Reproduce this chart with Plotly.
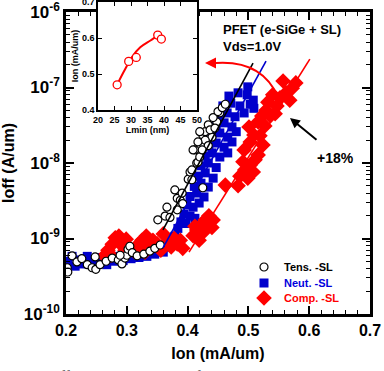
import plotly.graph_objects as go

# ---------------- data ----------------
tens_ion = [0.202, 0.203, 0.210, 0.218, 0.226, 0.235, 0.243, 0.249, 0.256, 0.248,
            0.266, 0.276, 0.286, 0.292, 0.297, 0.300, 0.302, 0.305, 0.309, 0.289,
            0.317, 0.328, 0.338, 0.346, 0.355,
            0.351, 0.363, 0.366, 0.371, 0.379, 0.383, 0.388, 0.391, 0.392, 0.383,
            0.401, 0.404, 0.407, 0.407, 0.412, 0.415, 0.417, 0.420, 0.425, 0.429,
            0.434, 0.440, 0.448, 0.453, 0.429, 0.437, 0.442, 0.450, 0.457, 0.462,
            0.445, 0.434, 0.424, 0.425, 0.420, 0.409, 0.417]
tens_ioff = [4.1e-10, 3.6e-10, 5.9e-10, 4.9e-10, 5.4e-10, 4.5e-10, 4.1e-10, 3.9e-10, 4.5e-10, 5.7e-10,
             5.0e-10, 5.5e-10, 5.2e-10, 4.6e-10, 5.5e-10, 6.0e-10, 7.2e-10, 7.9e-10, 6.5e-10, 6.0e-10,
             5.9e-10, 6.2e-10, 6.8e-10, 7.4e-10, 8.2e-10,
             1.77e-9, 1.98e-9, 2.6e-9, 1.9e-9, 4.4e-9, 3.4e-9, 3.2e-9, 4.0e-9, 2.9e-9, 2.4e-9,
             6.1e-9, 7.6e-9, 8.1e-9, 6.0e-9, 1.49e-8, 1.0e-8, 1.03e-8, 1.2e-8, 2.35e-8, 2.6e-8,
             3.2e-8, 2.2e-8, 3.5e-8, 4.6e-8, 2.0e-8, 2.75e-8, 4.0e-8, 4.8e-8, 5.4e-8, 6.0e-8,
             2.9e-8, 1.7e-8, 1.49e-8, 4.7e-9, 2.6e-8, 1.49e-8, 1.9e-8]

neut_ion = [0.203, 0.210, 0.215, 0.221, 0.228, 0.235, 0.241, 0.248, 0.254, 0.261,
            0.267, 0.274, 0.281, 0.287, 0.294, 0.300, 0.307, 0.313, 0.320, 0.327,
            0.333, 0.340, 0.346, 0.353, 0.360, 0.366, 0.373, 0.379, 0.384,
            0.389, 0.397, 0.394, 0.404, 0.412, 0.399, 0.409, 0.419, 0.404, 0.415,
            0.427, 0.411, 0.422, 0.434, 0.417, 0.429, 0.442, 0.422, 0.434, 0.447,
            0.429, 0.440, 0.453, 0.466, 0.435, 0.447, 0.460, 0.473, 0.440, 0.453,
            0.466, 0.480, 0.447, 0.460, 0.473, 0.452, 0.465, 0.478, 0.493, 0.458,
            0.471, 0.486, 0.503, 0.468, 0.483, 0.498, 0.499, 0.508, 0.509]
neut_ioff = [5.0e-10, 5.8e-10, 4.3e-10, 5.2e-10, 4.6e-10, 5.8e-10, 5.0e-10, 4.3e-10, 5.6e-10, 5.0e-10,
             4.5e-10, 5.4e-10, 5.0e-10, 5.8e-10, 5.1e-10, 5.8e-10, 5.4e-10, 6.0e-10, 5.6e-10, 6.5e-10,
             5.8e-10, 6.6e-10, 6.2e-10, 7.0e-10, 6.6e-10, 7.7e-10, 8.8e-10, 1.07e-9, 1.36e-9,
             1.66e-9, 1.58e-9, 2.1e-9, 1.98e-9, 1.85e-9, 2.78e-9, 2.6e-9, 2.95e-9, 3.6e-9, 4.0e-9,
             3.55e-9, 4.9e-9, 5.4e-9, 4.8e-9, 6.7e-9, 7.4e-9, 6.3e-9, 9.2e-9, 1.0e-8, 8.7e-9,
             1.23e-8, 1.36e-8, 1.20e-8, 1.36e-8, 1.67e-8, 1.84e-8, 1.62e-8, 1.90e-8, 2.3e-8, 2.5e-8,
             2.2e-8, 2.6e-8, 3.1e-8, 3.4e-8, 3.0e-8, 4.2e-8, 4.6e-8, 4.1e-8, 4.6e-8, 5.7e-8,
             6.2e-8, 5.7e-8, 6.0e-8, 7.7e-8, 8.5e-8, 8.0e-8, 1.02e-7, 6.8e-8, 5.3e-8]

comp_ion = [0.263, 0.269, 0.276, 0.281, 0.287, 0.290, 0.297, 0.274, 0.299, 0.312,
            0.318, 0.325, 0.332, 0.338, 0.330, 0.343, 0.350, 0.356, 0.360, 0.366,
            0.373, 0.378, 0.383, 0.388, 0.392,
            0.409, 0.415, 0.422, 0.429, 0.435, 0.427, 0.440, 0.419, 0.412, 0.442,
            0.462, 0.483, 0.486, 0.494, 0.503, 0.511, 0.491, 0.499, 0.508, 0.516,
            0.493, 0.503, 0.509, 0.501, 0.516, 0.522, 0.529, 0.519, 0.527, 0.536,
            0.532, 0.540, 0.547, 0.552, 0.557, 0.562, 0.568, 0.572, 0.578, 0.544, 0.524]
comp_ioff = [5.9e-10, 7.0e-10, 8.4e-10, 1.02e-9, 1.08e-9, 8.4e-10, 7.0e-10, 6.0e-10, 9.8e-10, 6.8e-10,
             8.2e-10, 9.5e-10, 1.08e-9, 8.2e-10, 6.6e-10, 9.5e-10, 8.5e-10, 7.0e-10, 1.15e-9, 9.0e-10,
             7.7e-10, 1.0e-9, 8.5e-10, 9.5e-10, 7.4e-10,
             1.09e-9, 1.3e-9, 1.5e-9, 1.76e-9, 2.0e-9, 1.24e-9, 1.4e-9, 9.5e-10, 1.45e-9, 1.76e-9,
             5.1e-9, 5.0e-9, 6.7e-9, 8.1e-9, 9.4e-9, 1.1e-8, 1.04e-8, 6.3e-9, 7.6e-9, 1.28e-8,
             1.49e-8, 1.9e-8, 2.35e-8, 3.0e-8, 3.5e-8, 4.2e-8, 5.0e-8, 2.3e-8, 3.1e-8, 4.2e-8,
             6.4e-8, 8.0e-8, 5.7e-8, 7.3e-8, 1.22e-7, 8.5e-8, 6.8e-8, 9.8e-8, 1.15e-7, 4.5e-8, 1.73e-8]

fit_tens_ion = [0.3595, 0.5076]
fit_tens_ioff = [1.30e-9, 2.11e-7]
fit_neut_ion = [0.3595, 0.529]
fit_neut_ioff = [7.5e-10, 2.24e-7]
fit_comp_ion = [0.4023, 0.601]
fit_comp_ioff = [6.6e-10, 2.38e-7]

inset_lmin = [25.8, 29.3, 31.6, 38.1, 39.2]
inset_ion = [0.470, 0.535, 0.546, 0.608, 0.597]
inset_fit_lmin = [26.0, 27.8, 30.3, 32.8, 35.9, 37.9, 39.0]
inset_fit_ion = [0.474, 0.506, 0.547, 0.574, 0.593, 0.605, 0.608]

y_tick_vals = [1e-10, 1e-9, 1e-8, 1e-7, 1e-6]
y_tick_text = ["10<sup>-10</sup>", "10<sup>-9</sup>", "10<sup>-8</sup>", "10<sup>-7</sup>", "10<sup>-6</sup>"]

# ---------------- layout helpers ----------------
W, H = 384, 371
L, R, T, B = 66, 14, 2, 57
PW, PH = W - L - R, H - T - B


def pxx(p):
    return (p - L) / PW


def pxy(p):
    return (H - B - p) / PH


FONT = "Liberation Sans"
minor_y = [m * d for d in [1e-10, 1e-9, 1e-8, 1e-7] for m in range(2, 10)]

fig = go.Figure()

fig.add_trace(go.Scatter(x=neut_ion, y=neut_ioff, mode="markers", name="<span style='color:#0000dd'>Neut. -SL</span>",
                         marker=dict(symbol="square", size=9, color="#0000cc", line=dict(width=0)),
                         legend="legend2"))
fig.add_trace(go.Scatter(x=comp_ion, y=comp_ioff, mode="markers", name="<span style='color:#ff0000'>Comp. -SL</span>",
                         marker=dict(symbol="diamond", size=12, color="#ff0000", line=dict(width=0)),
                         legend="legend3"))
fig.add_trace(go.Scatter(x=tens_ion, y=tens_ioff, mode="markers", name="Tens. -SL",
                         marker=dict(symbol="circle", size=8, color="white", line=dict(width=1.2, color="black")),
                         legend="legend"))
fig.add_trace(go.Scatter(x=fit_tens_ion, y=fit_tens_ioff, mode="lines", showlegend=False,
                         line=dict(color="black", width=1.6)))
fig.add_trace(go.Scatter(x=fit_neut_ion, y=fit_neut_ioff, mode="lines", showlegend=False,
                         line=dict(color="#0000cc", width=1.6)))
fig.add_trace(go.Scatter(x=fit_comp_ion, y=fit_comp_ioff, mode="lines", showlegend=False,
                         line=dict(color="#ff0000", width=1.6)))

# inset
fig.add_trace(go.Scatter(x=inset_fit_lmin, y=inset_fit_ion, mode="lines", showlegend=False,
                         line=dict(color="#ff0000", width=2, shape="spline"), xaxis="x2", yaxis="y2"))
fig.add_trace(go.Scatter(x=inset_lmin, y=inset_ion, mode="markers", showlegend=False,
                         marker=dict(symbol="circle", size=8, color="white", line=dict(width=1.3, color="#ff0000")),
                         xaxis="x2", yaxis="y2"))

bold = dict(family=FONT, color="black", weight="bold")
leg_font = dict(family=FONT, size=11, color="black", weight="bold")


def leg(row_py):
    return dict(x=pxx(244), y=pxy(row_py), xanchor="left", yanchor="middle",
                bgcolor="rgba(0,0,0,0)", font=leg_font, itemwidth=30)


fig.update_layout(
    width=W, height=H,
    margin=dict(l=L, r=R, t=T, b=B),
    paper_bgcolor="white", plot_bgcolor="white",
    showlegend=True,
    legend=leg(267), legend2=leg(283), legend3=leg(298),
    xaxis=dict(range=[0.2, 0.7], domain=[0, 1], tick0=0.2, dtick=0.1, tickformat=".1f",
               ticks="inside", ticklen=8, tickwidth=1.5, tickcolor="black",
               minor=dict(dtick=0.02, ticks="inside", ticklen=4, tickwidth=1.2, tickcolor="black"),
               showline=True, linewidth=2.5, linecolor="black", mirror="ticks",
               showgrid=False, zeroline=False, automargin=False, ticklabeloverflow="allow",
               tickfont=dict(size=16, **bold),
               title=dict(text="Ion (mA/um)", font=dict(size=16, **bold), standoff=10)),
    yaxis=dict(type="log", range=[-10, -6], domain=[0, (H - B - 12) / PH],
               tickmode="array", tickvals=y_tick_vals, ticktext=y_tick_text,
               ticks="inside", ticklen=8, tickwidth=1.5, tickcolor="black",
               minor=dict(tickmode="array", tickvals=minor_y, ticks="inside", ticklen=4,
                          tickwidth=1.2, tickcolor="black"),
               showline=True, linewidth=2.5, linecolor="black", mirror="ticks",
               showgrid=False, zeroline=False, automargin=False, ticklabeloverflow="allow",
               tickfont=dict(size=17, **bold),
               title=dict(text="Ioff (A/um)", font=dict(size=16, **bold), standoff=6)),
    xaxis2=dict(range=[20, 50], domain=[pxx(98), pxx(197)], anchor="y2", dtick=5,
                ticks="inside", ticklen=4, tickwidth=1, tickcolor="black",
                showline=True, linewidth=1.5, linecolor="black", mirror="ticks",
                showgrid=False, zeroline=False, automargin=False, ticklabeloverflow="allow",
                tickfont=dict(size=9, **bold),
                title=dict(text="Lmin (nm)", font=dict(size=9, **bold), standoff=1)),
    yaxis2=dict(range=[0.4, 0.7], domain=[pxy(110), 1.0], anchor="x2", dtick=0.1, tickformat=".1f",
                ticks="inside", ticklen=4, tickwidth=1, tickcolor="black",
                showline=True, linewidth=1.5, linecolor="black", mirror="ticks",
                showgrid=False, zeroline=False, automargin=False, ticklabeloverflow="allow",
                tickfont=dict(size=9, **bold),
                title=dict(text="Ion (mA/um)", font=dict(size=9, **bold), standoff=2)),
)

fig.add_shape(type="rect", xref="x2", yref="y2", x0=20, x1=50, y0=0.4, y1=0.7,
              fillcolor="white", line=dict(width=0), layer="below")

fig.add_shape(type="path", xref="paper", yref="paper",
              path=f"M {pxx(278)},{pxy(97)} Q {pxx(262)},{pxy(60)} {pxx(216)},{pxy(63)}",
              line=dict(color="#ff0000", width=2))

fig.add_annotation(x=pxx(205), y=pxy(63), xref="paper", yref="paper", ax=13, ay=0,
                   showarrow=True, arrowhead=2, arrowsize=1.1, arrowwidth=2, arrowcolor="#ff0000", text="")
fig.add_annotation(x=pxx(290), y=pxy(118), xref="paper", yref="paper", ax=28, ay=23,
                   showarrow=True, arrowhead=2, arrowsize=1, arrowwidth=2, arrowcolor="black", text="")
fig.add_annotation(x=pxx(335), y=pxy(158), xref="paper", yref="paper", text="+18%", showarrow=False,
                   xanchor="center", yanchor="middle", font=dict(size=14, **bold))
fig.add_annotation(x=pxx(221), y=pxy(29), xref="paper", yref="paper", text="PFET (e-SiGe + SL)",
                   showarrow=False, xanchor="left", yanchor="middle", font=dict(size=13, **bold))
fig.add_annotation(x=pxx(221), y=pxy(46), xref="paper", yref="paper", text="Vds=1.0V",
                   showarrow=False, xanchor="left", yanchor="middle", font=dict(size=13, **bold))
fig.add_annotation(x=pxx(3), y=pxy(376), xref="paper", yref="paper",
                   text="Fig. 4. Ioff-Ion characteristics of PFET with",
                   showarrow=False, xanchor="left", yanchor="middle",
                   font=dict(family="Liberation Serif", size=15, color="#333333"))

fig.write_html("out.html", config={"displayModeBar": False},
               post_script="document.body.style.margin='0px';")
